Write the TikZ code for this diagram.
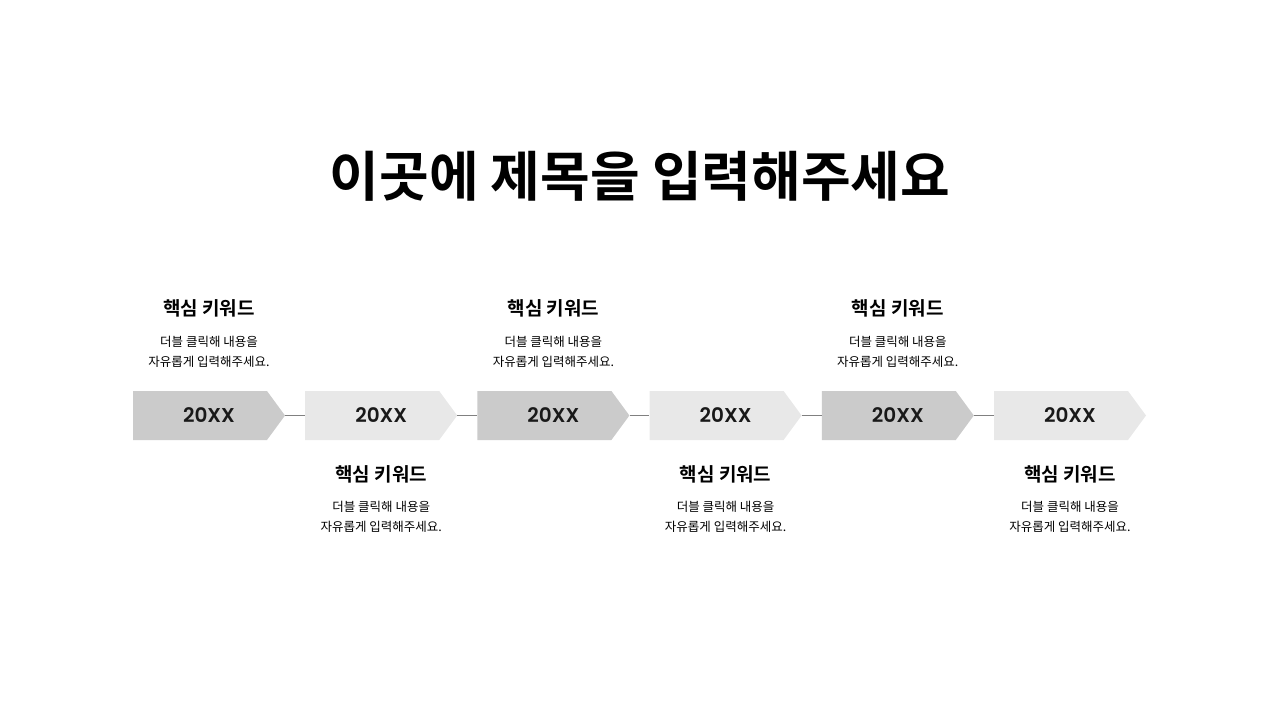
\documentclass[tikz,border=0pt]{standalone}
\usepackage{fontspec}
\setmainfont{Noto Sans CJK KR}[BoldFont={* Bold}]
\newfontfamily\yearfont{Poppins}[UprightFont={* SemiBold}]
\definecolor{boxdark}{HTML}{CBCBCB}
\definecolor{boxlight}{HTML}{E8E8E8}
\definecolor{linegray}{HTML}{808080}
\tikzset{
  yearbox/.style={rectangle, minimum width=152pt, minimum height=49pt, inner sep=0pt, draw=none,
    font=\fontsize{20}{20}\selectfont\yearfont, text=black!90},
  kw/.style={font=\fontsize{19}{20}\selectfont\bfseries, inner sep=0pt, anchor=center},
  body/.style={font=\fontsize{12.5}{20}\selectfont, inner sep=0pt, anchor=center, align=center},
  conn/.style={draw=linegray, line width=1.6pt}
}
\begin{document}
\begin{tikzpicture}[x=1pt,y=-1pt]
\useasboundingbox (0,0) rectangle (1280,720);
\node[inner sep=0pt, font=\fontsize{54}{54}\selectfont\bfseries] (title) at (640,176) {이곳에 제목을 입력해주세요};
\foreach \i/\s in {1/boxdark,2/boxlight,3/boxdark,4/boxlight,5/boxdark,6/boxlight}{
  \pgfmathsetmacro\xo{133+172.2*(\i-1)}
  \fill[\s] (\xo,391) -- ++(134,0) -- ++(18,24.5) -- ++(-18,24.5) -- ++(-134,0) -- cycle;
  \node[yearbox] (b\i) at ({\xo+76},415.5) {20XX};
}
\foreach \a/\b in {1/2,2/3,3/4,4/5,5/6}{
  \draw[conn] (b\a.east) -- (b\b.west);
}
\foreach \i in {1,3,5}{
  \node[kw] (k\i) at ({209+172.2*(\i-1)},308) {핵심 키워드};
  \node[body] (d\i) at ({209+172.2*(\i-1)},352) {더블 클릭해 내용을\\자유롭게 입력해주세요.};
}
\foreach \i in {2,4,6}{
  \node[kw] (k\i) at ({209+172.2*(\i-1)},474) {핵심 키워드};
  \node[body] (d\i) at ({209+172.2*(\i-1)},517) {더블 클릭해 내용을\\자유롭게 입력해주세요.};
}
\end{tikzpicture}
\end{document}
